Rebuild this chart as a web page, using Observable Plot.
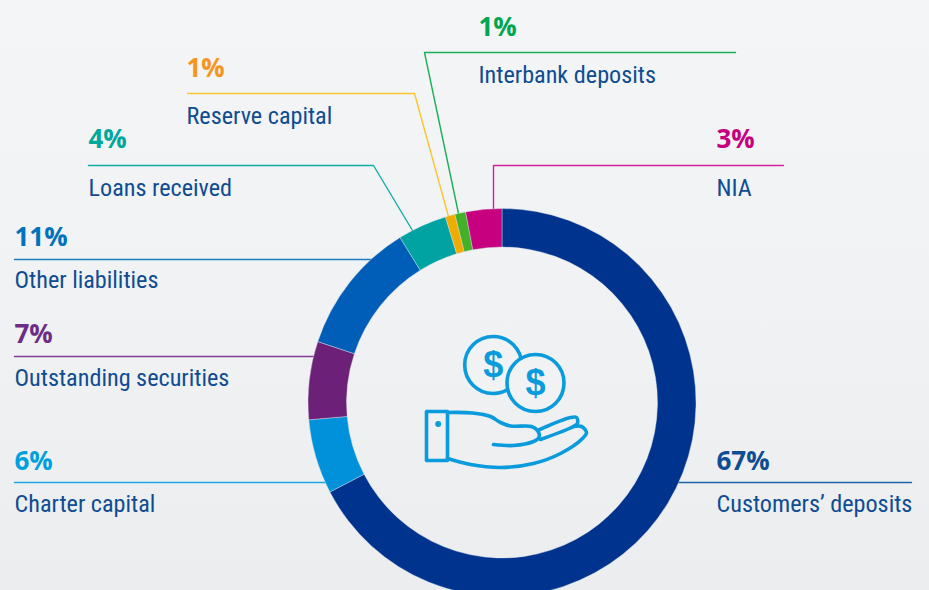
<!DOCTYPE html>
<html><head><meta charset="utf-8">
<script src="https://cdn.jsdelivr.net/npm/d3@7"></script>
<script src="https://cdn.jsdelivr.net/npm/@observablehq/plot@0.6"></script>
<style>
html,body{margin:0;padding:0;width:929px;height:590px;overflow:hidden;background:#eff1f3}
svg{display:block}
</style></head><body><div id="c"></div>
<script>
// Data
const names = ["Customers’ deposits","Charter capital","Outstanding securities","Other liabilities","Loans received","Reserve capital","Interbank deposits","NIA"];
const shares = [67.3,6.2,6.5,11.1,4.1,0.8,0.9,3.0];
const pctLabels = ["67%","6%","7%","11%","4%","1%","1%","3%"];
// Styles
const ringColors = ["#00338d","#0091da","#6d2077","#005eb8","#00a3a1","#f0ab00","#43b02a","#c6007e"];
const pctColors  = ["#0f4c92","#00a0dc","#6d2c86","#0072bc","#00a79d","#f7941d","#00a651","#c6007e"];
const lineColors = ["#1f66a8","#1fa6de","#803c92","#1f7cc0","#14ada5","#f9c62e","#1cae58","#d4209a"];
const labelColor = "#0f4c92";
// Layout (page pixels)
const textX   = [716,14,14,14,88,186,478,716];
const pctY    = [471,471,344,247,149,78,37,149];
const nameY   = [512,512,386,288,196,124,83,196];
const leaders = [
  [[911,482],[675,482]],
  [[14,482],[335,482]],
  [[14,356],[320,356]],
  [[14,259],[375,259]],
  [[88,165],[373,165],[412,230]],
  [[187,93],[414,93],[448,216]],
  [[735,52],[424,52],[458,213]],
  [[783,165],[493,165],[493,212]]
];
const ring = {cx:502, cy:402.5, outer:194, inner:155.5};
const W = 929, H = 590, iconColor = "#0a9bdc";

const rows = names.map((n,i)=>({n,p:pctLabels[i],x:textX[i],py:pctY[i],ny:nameY[i],c:pctColors[i]}));

// Icon geometry
const coins = [{x:492.7,y:364.5},{x:535,y:382.5}];
const hand = [
 {k:"cuff",pts:[[426,411],[447,411],[447,460],[426,460],[426,411]],curve:"linear"},
 {k:"top",pts:[[447,412],[472,412.5],[490,416],[500,422],[510,425.5],[531,426],[537,430],[538.5,437],[533,441],[513,445],[493,444]],curve:"catmull-rom"},
 {k:"f1",pts:[[537,430],[570,417],[576,417],[577,423],[573,426],[540,439]],curve:"catmull-rom"},
 {k:"f2",pts:[[573,426],[581,426],[586,432],[582,438],[560,453],[533,463],[500,467],[470,464],[447,458]],curve:"catmull-rom"}
];

// Ring: pie layout over the shares, drawn through the plot's scales
function donut(index, {x, y}) {
  const pie = d3.pie().sort(null)(shares);
  const arc = d3.arc().innerRadius(ring.inner).outerRadius(ring.outer);
  const g = d3.create("svg:g").attr("transform",`translate(${x(ring.cx)},${y(ring.cy)})`);
  g.selectAll("path").data(pie).join("path")
    .attr("d",arc)
    .attr("fill",(d,i)=>ringColors[i])
    .attr("stroke","#dfe6ee").attr("stroke-width",0.4);
  return g.node();
}

const numFont = "Open Sans, Roboto, sans-serif";
const nameFont = "'Liberation Sans Narrow', 'Roboto Condensed', 'Liberation Sans', sans-serif";

const plot = Plot.plot({
  width:W, height:H, margin:0,
  style:{background:"linear-gradient(180deg,#f3f5f7 0%,#f0f2f4 50%,#ebedef 100%)"},
  x:{domain:[0,W],range:[0,W],axis:null},
  y:{domain:[0,H],range:[0,H],axis:null},
  marks:[
    ...leaders.map((pts,i)=>Plot.line(pts,{x:p=>p[0],y:p=>p[1],stroke:lineColors[i],strokeWidth:1.4,curve:"linear"})),
    donut,
    Plot.text(rows,{x:"x",y:"py",text:"p",fill:"c",textAnchor:"start",lineAnchor:"bottom",fontFamily:numFont,fontWeight:700,fontSize:26,dy:-2}),
    Plot.text(rows,{x:"x",y:"ny",text:"n",fill:labelColor,textAnchor:"start",lineAnchor:"bottom",fontFamily:nameFont,fontSize:24.2,dy:-1}),
    // icon
    Plot.dot(coins,{x:"x",y:"y",r:28.5,stroke:iconColor,strokeWidth:3.6,fill:"#f0f2f4"}),
    Plot.text(coins,{x:"x",y:"y",text:()=>"$",fill:iconColor,fontFamily:"Liberation Sans",fontWeight:700,fontSize:36}),
    ...hand.map(h=>Plot.line(h.pts,{x:p=>p[0],y:p=>p[1],stroke:iconColor,strokeWidth:3.6,curve:h.curve,strokeLinecap:"round",strokeLinejoin:"round"})),
    Plot.dot([{x:437.7,y:423.5}],{x:"x",y:"y",r:3,fill:iconColor})
  ]
});
document.getElementById("c").append(plot);
</script></body></html>
